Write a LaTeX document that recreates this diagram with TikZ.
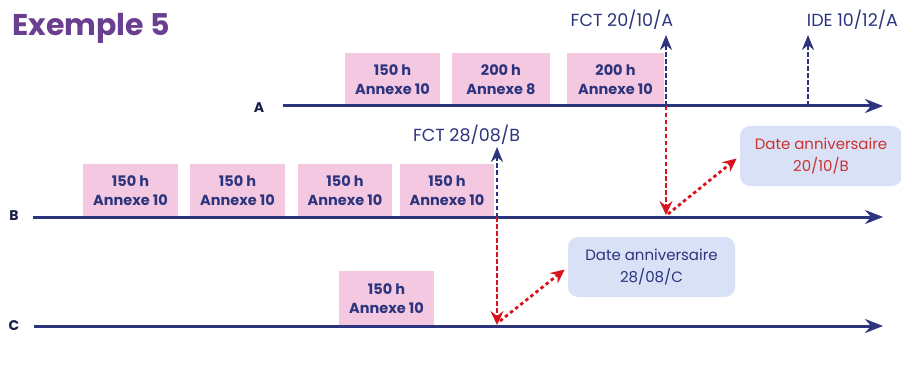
\documentclass[tikz,border=0pt]{standalone}
\usepackage{fontspec}
\setmainfont{Poppins}
\usetikzlibrary{arrows.meta}
\definecolor{navy}{HTML}{2B347C}
\definecolor{redx}{HTML}{D7141E}
\definecolor{redt}{HTML}{C8322F}
\definecolor{pinkbox}{HTML}{F4C8E1}
\definecolor{bluebox}{HTML}{D9E1F7}
\definecolor{titlepurple}{HTML}{6B3F8F}
\tikzset{
  x=1pt,y=-1pt,
  pbox/.style={fill=pinkbox, inner sep=0pt, align=center, text=navy,
    font=\fontsize{14.5}{19}\selectfont\bfseries, minimum height=53},
  dbox/.style={fill=bluebox, rounded corners=10, inner sep=0pt, align=center,
    font=\fontsize{15}{22}\selectfont, minimum width=164, minimum height=60},
  axis/.style={draw=navy, line width=3pt, -{Stealth[length=18pt,width=14pt,inset=6pt]}},
  navydash/.style={draw=navy, line width=2.8pt, dash pattern=on 4.5pt off 2.5pt,
    -{Stealth[length=15pt,width=12pt,inset=5pt]}},
  reddash/.style={draw=redx, line width=2.8pt, dash pattern=on 4.5pt off 2.5pt,
    -{Stealth[length=14pt,width=13pt,inset=5pt]}},
  reddot/.style={draw=redx, line width=2.8pt, dash pattern=on 3.5pt off 3pt,
    shorten >=4pt, -{Stealth[length=14pt,width=13pt,inset=5pt]}},
  datelbl/.style={text=navy, font=\fontsize{17.5}{20}\selectfont, anchor=base, inner sep=0pt},
  axlbl/.style={text=navy!60!black, font=\fontsize{14}{16}\selectfont\bfseries, inner sep=0pt},
}
\begin{document}
\begin{tikzpicture}
\useasboundingbox (0,0) rectangle (901,366);

% title
\node[anchor=base west, inner sep=0pt, text=titlepurple,
  font=\fontsize{30}{32}\selectfont\bfseries] (title) at (12,36) {Exemple 5};

% axes coordinates
\coordinate (As) at (283,106); \coordinate (Ae) at (883,106);
\coordinate (Bs) at (33,217);  \coordinate (Be) at (883,217);
\coordinate (Cs) at (34,326);  \coordinate (Ce) at (883,326);

% pink boxes row A
\node[pbox, minimum width=95] (a1) at (392.5,80) {150 h\\Annexe 10};
\node[pbox, minimum width=98] (a2) at (501,80) {200 h\\Annexe 8};
\node[pbox, minimum width=97] (a3) at (615.5,80) {200 h\\Annexe 10};
% pink boxes row B
\node[pbox, minimum width=95] (b1) at (130.5,190.5) {150 h\\Annexe 10};
\node[pbox, minimum width=95] (b2) at (237.5,190.5) {150 h\\Annexe 10};
\node[pbox, minimum width=94] (b3) at (345,190.5) {150 h\\Annexe 10};
\node[pbox, minimum width=94] (b4) at (447,190.5) {150 h\\Annexe 10};
% pink box row C
\node[pbox, minimum width=95, minimum height=55] (c1) at (386.5,298.5) {150 h\\Annexe 10};

% axes
\draw[axis] (As) -- (Ae);
\draw[axis] (Bs) -- (Be);
\draw[axis] (Cs) -- (Ce);
\node[axlbl] (la) at (259,108) {A};
\node[axlbl] (lb) at (14,216) {B};
\node[axlbl] (lc) at (14,326) {C};

% event coordinates
\coordinate (fA) at (666,106); \coordinate (fAt) at (666,35);
\coordinate (iA) at (808,106); \coordinate (iAt) at (808,35);
\coordinate (fB) at (497,217); \coordinate (fBt) at (497,147);
\coordinate (rA) at (666,215);
\coordinate (rB) at (497,325);
\coordinate (dA) at (668,214);
\coordinate (dB) at (500,321);

% labels above
\node[datelbl] (tfa) at (622,27) {FCT 20/10/A};
\node[datelbl] (tia) at (852.5,27) {IDE 10/12/A};
\node[datelbl] (tfb) at (466.5,142) {FCT 28/08/B};

% date boxes
\node[dbox, minimum width=167, text=navy] (d1) at (651.5,267) {Date anniversaire\\28/08/C};
\node[dbox, minimum width=162, text=redt] (d2) at (821,156) {Date anniversaire\\20/10/B};

% red arrows
\draw[reddash] (fA) -- (rA);
\draw[reddash] (fB) -- (rB);
\draw[reddot] (dA) -- (d2.west);
\draw[reddot] (dB) -- (d1.west);

% navy dashed arrows
\draw[navydash] (fA) -- (fAt);
\draw[navydash] (iA) -- (iAt);
\draw[navydash] (fB) -- (fBt);
\end{tikzpicture}
\end{document}
